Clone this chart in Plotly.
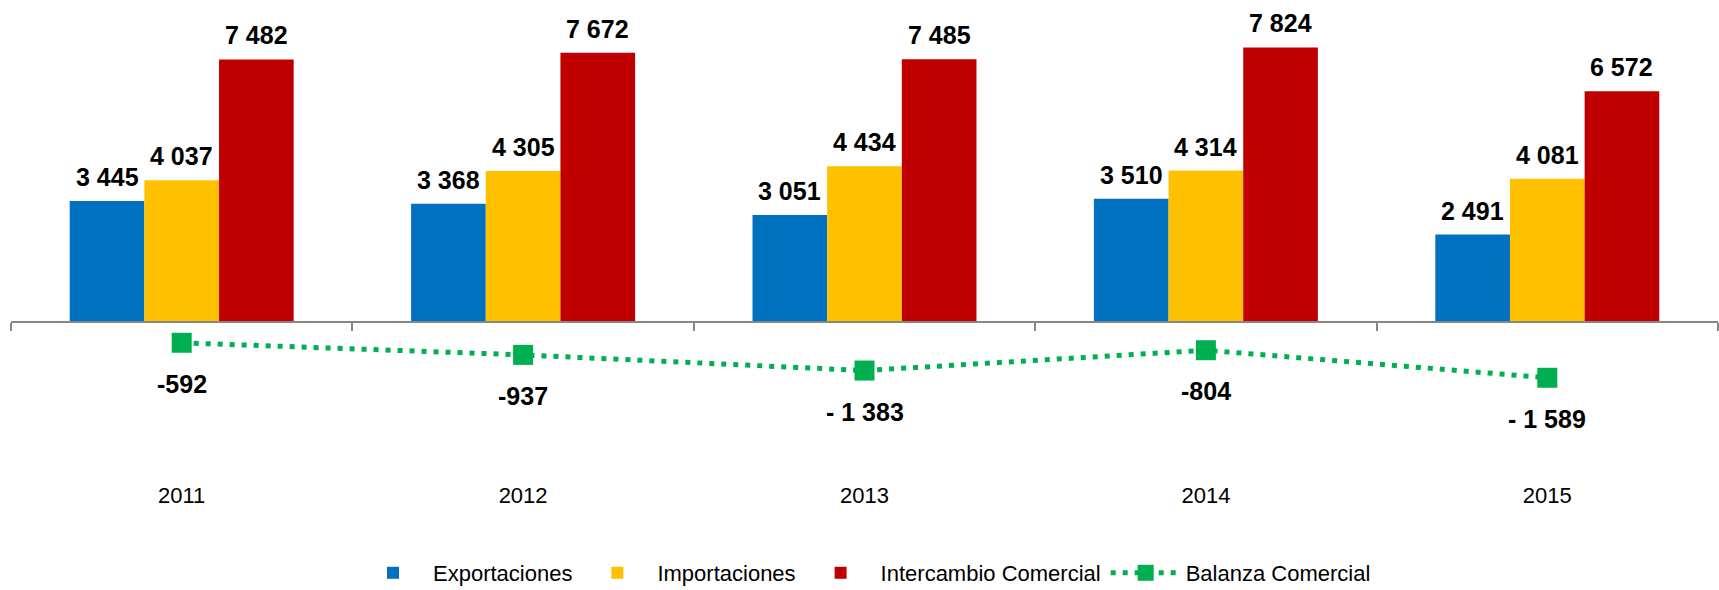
import plotly.graph_objects as go

years = ["2011", "2012", "2013", "2014", "2015"]
exportaciones = [3445, 3368, 3051, 3510, 2491]
importaciones = [4037, 4305, 4434, 4314, 4081]
intercambio = [7482, 7672, 7485, 7824, 6572]
balanza = [-592, -937, -1383, -804, -1589]

series_names = ["Exportaciones", "Importaciones", "Intercambio Comercial"]
series_colors = ["#0070C0", "#FFC000", "#C00000"]
balanza_color = "#00B050"

FONT = "Liberation Sans Narrow, Arial Narrow, Liberation Sans, Arial, sans-serif"


def fmt(v):
    a = f"{abs(v):,}".replace(",", " ")
    if v < 0:
        return "- " + a if abs(v) >= 1000 else "-" + a
    return a


# layout geometry
W, H = 1719, 590
m_l, m_r, m_t, m_b = 11, 1, 8, 110
px_per_unit = 0.0351
plot_h = H - m_t - m_b
zero_px_from_top = 322 - m_t
ymax = zero_px_from_top / px_per_unit
ymin = -(plot_h - zero_px_from_top) / px_per_unit
bargap = 0.344
bw = (1 - bargap) / 3

fig = go.Figure()
bar_series = [exportaciones, importaciones, intercambio]
for name, vals, col in zip(series_names, bar_series, series_colors):
    fig.add_trace(go.Bar(x=years, y=vals, name=name, marker_color=col,
                         marker_line_width=0, hoverinfo="x+y"))

fig.add_trace(go.Scatter(x=years, y=balanza, name="Balanza Comercial",
                         mode="lines+markers",
                         line=dict(color=balanza_color, width=5, dash="5px,7px"),
                         marker=dict(symbol="square", size=20, color=balanza_color)))

# dummy trace for the zero-positioned axis with boundary ticks
fig.add_trace(go.Scatter(x=years, y=[0] * len(years), xaxis="x2", mode="none",
                         showlegend=False, hoverinfo="skip"))

LABEL_SIZE = 25
annotations = []
for i, vals in enumerate(bar_series):
    for j, v in enumerate(vals):
        annotations.append(dict(x=j + (i - 1) * bw, y=v, xref="x", yref="y",
                                text=fmt(v), showarrow=False, yanchor="bottom",
                                yshift=8,
                                font=dict(family=FONT, size=LABEL_SIZE, color="black", weight="bold")))
for j, v in enumerate(balanza):
    annotations.append(dict(x=j, y=v, xref="x", yref="y", text=fmt(v),
                            showarrow=False, yanchor="middle", yshift=-41,
                            font=dict(family=FONT, size=LABEL_SIZE, color="black", weight="bold")))

zero_pos = (0 - ymin) / (ymax - ymin)

fig.update_layout(
    width=W, height=H,
    margin=dict(l=m_l, r=m_r, t=m_t, b=m_b, autoexpand=False),
    paper_bgcolor="white", plot_bgcolor="white",
    barmode="group", bargap=bargap, bargroupgap=0,
    font=dict(family=FONT, size=22, color="black"),
    showlegend=True,
    legend=dict(orientation="h", x=0.5, xanchor="center", y=-0.197, yanchor="middle",
                font=dict(family=FONT, size=22, color="black"),
                itemwidth=70, tracegroupgap=0),
    xaxis=dict(type="category", categoryarray=years, range=[-0.5, 4.5],
               showline=False, ticks="", showgrid=False, zeroline=False,
               automargin=False,
               tickfont=dict(family=FONT, size=22, color="black"),
               ticklabelstandoff=0),
    xaxis2=dict(type="category", categoryarray=years, range=[-0.5, 4.5],
                overlaying="x", anchor="free", position=zero_pos, side="bottom",
                automargin=False,
                showline=True, linecolor="#868686", linewidth=2,
                ticks="outside", tickson="boundaries", ticklen=8, tickwidth=2,
                tickcolor="#868686", showticklabels=False, showgrid=False),
    yaxis=dict(range=[ymin, ymax], visible=False, showgrid=False, zeroline=False,
               automargin=False),
    annotations=annotations,
)

fig.write_html("out.html",
               config={"displayModeBar": False},
               post_script="document.body.style.margin='0';document.body.style.overflow='hidden';")
